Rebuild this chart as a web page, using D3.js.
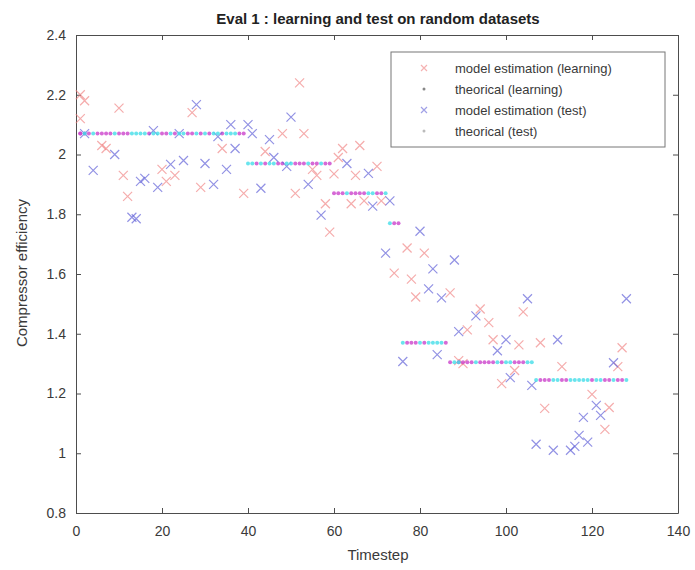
<!DOCTYPE html>
<head>
  <title>Eval 1</title>
  <script src="https://cdn.jsdelivr.net/npm/d3@7"></script>
  <style>
    body { margin: 0; background: #fff; }
    text { font-family: "Liberation Sans", Arial, sans-serif; }
  </style>
</head>
<body>
  <svg id="chart" width="695" height="570"></svg>
  <script>
    // model estimation (learning) - red crosses
    const learnX = [1, 2, 1, 6, 7, 10, 11, 12, 20, 21, 23, 27, 29, 34, 39, 44, 48, 51, 52, 53, 55, 56, 58, 59, 60, 61, 62, 64, 65, 66, 67, 70, 71, 74, 77, 78, 79, 81, 87, 89, 90, 91, 94, 96, 97, 99, 102, 103, 104, 108, 109, 113, 120, 123, 124, 126, 127];
    const learnY = [2.20, 2.18, 2.12, 2.03, 2.02, 2.155, 1.93, 1.86, 1.95, 1.91, 1.93, 2.14, 1.89, 2.02, 1.87, 2.01, 2.07, 1.87, 2.24, 2.07, 1.95, 1.93, 1.835, 1.74, 1.935, 1.99, 2.02, 1.835, 1.93, 2.03, 1.845, 1.96, 1.845, 1.603, 1.687, 1.583, 1.523, 1.67, 1.537, 1.31, 1.30, 1.413, 1.483, 1.437, 1.38, 1.233, 1.277, 1.363, 1.473, 1.37, 1.15, 1.29, 1.197, 1.08, 1.153, 1.29, 1.353];

    // model estimation (test) - blue crosses
    const testX = [2, 4, 9, 13, 14, 15, 16, 18, 19, 22, 24, 25, 28, 30, 32, 33, 35, 36, 37, 40, 41, 43, 45, 46, 49, 50, 54, 57, 63, 68, 69, 72, 73, 76, 80, 82, 83, 84, 85, 88, 89, 93, 98, 100, 101, 105, 106, 107, 111, 112, 115, 116, 117, 118, 119, 121, 122, 125, 128];
    const testY = [2.07, 1.947, 2.0, 1.79, 1.785, 1.91, 1.92, 2.08, 1.89, 1.967, 2.07, 1.98, 2.167, 1.97, 1.90, 2.06, 1.95, 2.10, 2.02, 2.10, 2.07, 1.887, 2.05, 1.99, 1.96, 2.125, 1.90, 1.797, 1.97, 1.937, 1.827, 1.67, 1.845, 1.307, 1.743, 1.55, 1.617, 1.33, 1.52, 1.647, 1.407, 1.46, 1.343, 1.38, 1.253, 1.517, 1.227, 1.03, 1.01, 1.38, 1.01, 1.023, 1.06, 1.12, 1.037, 1.16, 1.127, 1.303, 1.517];

    // learning timesteps whose estimate is hidden behind other marks
    const hiddenLearnX = [3, 5, 8, 17, 26, 31, 38, 42, 47, 75, 86, 92, 95, 110, 114];

    // theoretical efficiency levels (step function over timesteps)
    const levelStart = [1, 40, 60, 73, 76, 87, 107];
    const levelEnd = [39, 59, 72, 75, 86, 106, 128];
    const levelValue = [2.07, 1.97, 1.87, 1.77, 1.37, 1.305, 1.245];

    const xTicks = [0, 20, 40, 60, 80, 100, 120, 140];
    const yTicks = [0.8, 1, 1.2, 1.4, 1.6, 1.8, 2, 2.2, 2.4];
    const legendLabels = ["model estimation (learning)", "theorical (learning)", "model estimation (test)", "theorical (test)"];

    const theory = (t) => {
      for (let i = 0; i < levelStart.length; i++) {
        if (t >= levelStart[i] && t <= levelEnd[i]) return levelValue[i];
      }
      return null;
    };

    const margin = { top: 35, right: 17, bottom: 57, left: 76 },
      width = 695 - margin.left - margin.right,
      height = 570 - margin.top - margin.bottom;

    const svg = d3.select("svg#chart");
    const g = svg.append("g").attr("transform", "translate(" + margin.left + "," + margin.top + ")");

    const x = d3.scaleLinear().domain([0, 140]).range([0, width]);
    const y = d3.scaleLinear().domain([0.8, 2.4]).range([height, 0]);

    const axisColor = "#4d4d4d";
    const textColor = "#3a3a3a";
    const redX = "#f08080", blueX = "#6464d8", magenta = "#cc44cc", cyan = "#44dde8";

    // axes (MATLAB style box with inward ticks)
    function styleAxis(sel) {
      sel.select(".domain").attr("stroke", axisColor);
      sel.selectAll(".tick line").attr("stroke", axisColor);
      sel.selectAll("text").attr("fill", textColor).style("font-size", "14px");
    }
    g.append("g").attr("transform", "translate(0," + height + ")")
      .call(d3.axisBottom(x).tickValues(xTicks).tickSizeInner(-5).tickSizeOuter(0).tickPadding(13).tickFormat(d3.format("d")))
      .call(styleAxis);
    g.append("g")
      .call(d3.axisLeft(y).tickValues(yTicks).tickSizeInner(-5).tickSizeOuter(0).tickPadding(10).tickFormat((d) => d3.format("")(+d.toFixed(1))))
      .call(styleAxis);
    g.append("g")
      .call(d3.axisTop(x).tickValues(xTicks).tickSizeInner(-5).tickSizeOuter(0).tickFormat(""))
      .call(styleAxis);
    g.append("g").attr("transform", "translate(" + width + ",0)")
      .call(d3.axisRight(y).tickValues(yTicks).tickSizeInner(-5).tickSizeOuter(0).tickFormat(""))
      .call(styleAxis);

    const plot = g.append("g");

    function crosses(xs, ys, color, opacity) {
      const pts = xs.map((d, i) => ({ x: d, y: ys[i] }));
      plot.append("g").selectAll("path").data(pts).enter().append("path")
        .attr("d", (d) => {
          const px = x(d.x), py = y(d.y), s = 4.5;
          return "M" + (px - s) + "," + (py - s) + "L" + (px + s) + "," + (py + s) +
            "M" + (px - s) + "," + (py + s) + "L" + (px + s) + "," + (py - s);
        })
        .attr("stroke", color).attr("stroke-width", 1.2).attr("fill", "none")
        .attr("opacity", opacity);
    }

    function dots(xs, color) {
      const pts = xs.filter((t) => theory(t) !== null);
      plot.append("g").selectAll("circle").data(pts).enter().append("circle")
        .attr("cx", (d) => x(d)).attr("cy", (d) => y(theory(d)))
        .attr("r", 2).attr("fill", color).attr("opacity", 0.8);
    }

    crosses(learnX, learnY, redX, 0.65);
    dots(learnX, magenta);
    dots(hiddenLearnX, magenta);
    crosses(testX, testY, blueX, 0.7);
    dots(testX, cyan);

    // legend
    const lg = g.append("g").attr("transform", "translate(315,17)");
    lg.append("rect").attr("width", 274).attr("height", 95)
      .attr("fill", "#fff").attr("stroke", "#777").attr("stroke-width", 1);
    legendLabels.forEach((label, i) => {
      const ly = 16 + i * 21;
      const row = lg.append("g").attr("transform", "translate(0," + ly + ")");
      if (i === 0 || i === 2) {
        row.append("path").attr("d", "M30,-3L36,3M30,3L36,-3")
          .attr("stroke", i === 0 ? redX : blueX).attr("stroke-width", 1.2).attr("opacity", 0.6);
      } else {
        row.append("circle").attr("cx", 33).attr("cy", 0).attr("r", 1.5)
          .attr("fill", i === 1 ? "#888" : "#bbb");
      }
      row.append("text").attr("x", 64).attr("y", 5).attr("fill", textColor)
        .style("font-size", "13px").text(label);
    });

    // title and axis labels
    svg.append("text").attr("x", 378).attr("y", 24).attr("text-anchor", "middle")
      .attr("fill", "#222").style("font-size", "15px").style("font-weight", "bold")
      .text("Eval 1 : learning and test on random datasets");
    svg.append("text").attr("x", 378).attr("y", 560).attr("text-anchor", "middle")
      .attr("fill", textColor).style("font-size", "15px").text("Timestep");
    svg.append("text").attr("transform", "translate(27,273)rotate(-90)")
      .attr("text-anchor", "middle").attr("fill", textColor).style("font-size", "15px")
      .text("Compressor efficiency");
  </script>
</body>
